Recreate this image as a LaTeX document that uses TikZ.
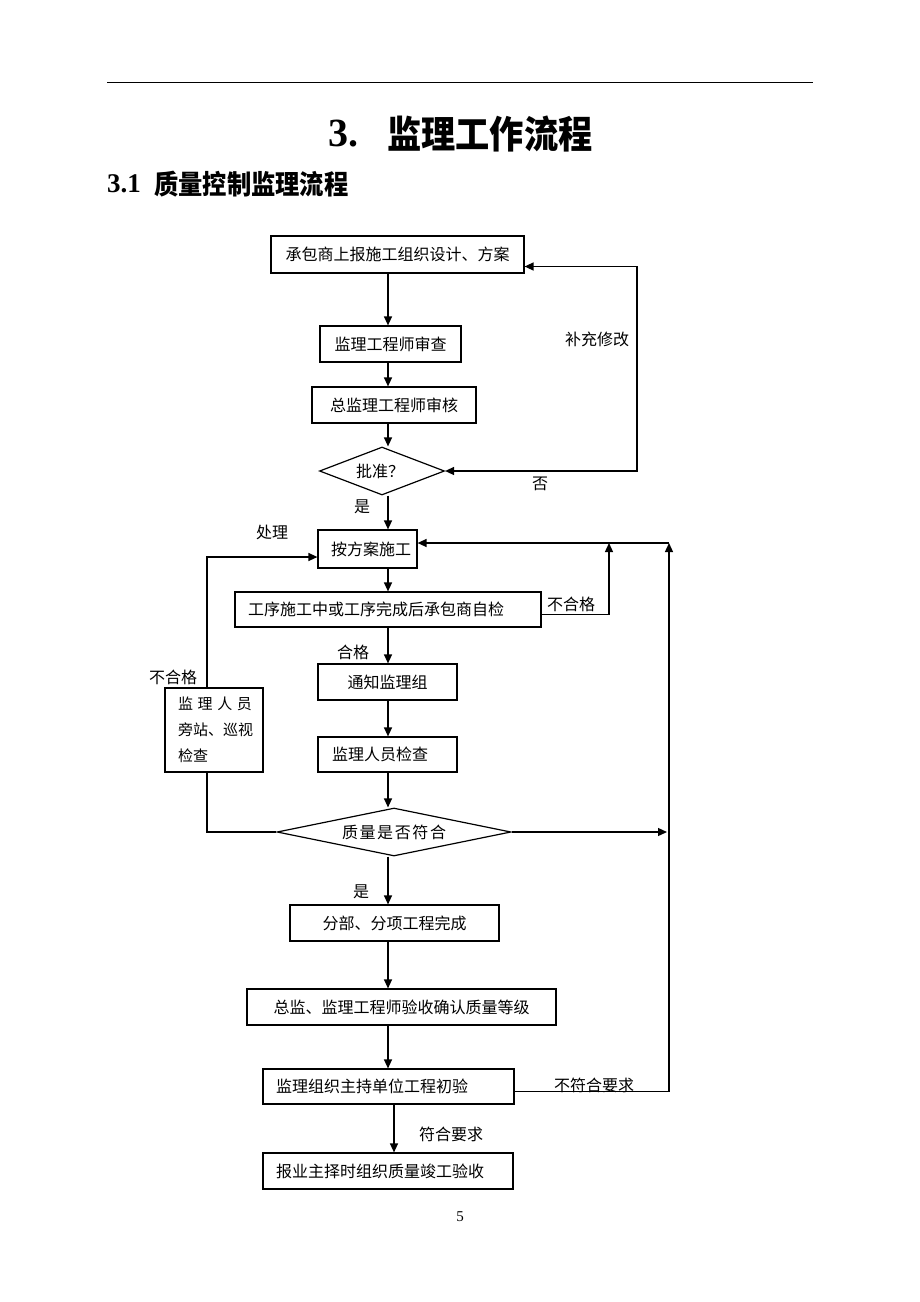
\documentclass[tikz,border=0pt]{standalone}
\usepackage{fontspec}
\setmainfont{Liberation Serif}
\newfontfamily\cjk{Noto Sans CJK SC}
\newfontfamily\cjkt[FakeStretch=0.9]{Noto Sans CJK SC}
\usetikzlibrary{arrows.meta,shapes.geometric}
\tikzset{
  box/.style={draw, line width=1.2pt, inner sep=0pt, font=\cjk\fontsize{16}{19}\selectfont},
  dia/.style={draw, diamond, line width=1.2pt, inner sep=0pt, font=\cjk\fontsize{16}{19}\selectfont},
  lbl/.style={inner sep=0pt, font=\cjk\fontsize{16}{19}\selectfont},
  arr/.style={-{Triangle[length=9pt,width=8pt]}, line width=1.3pt},
  dbl/.style={{Triangle[length=9pt,width=8pt]}-{Triangle[length=9pt,width=8pt]}, line width=1.3pt},
  ln/.style={line width=1.3pt}
}
\newcommand{\padl}[3]{\makebox[#1pt][l]{\hspace*{#2pt}#3}}
\begin{document}
\begin{tikzpicture}[x=1pt,y=-1pt]
\useasboundingbox (0,0) rectangle (920,1302);
% header
\coordinate (hl) at (107,82);
\coordinate (hr) at (813,82);
\draw[line width=0.8pt] (hl) -- (hr);
\node[anchor=west, inner sep=0pt, font=\bfseries\fontsize{40}{44}\selectfont] (t1) at (328,134) {3.};
\node[anchor=west, inner sep=0pt, font=\cjkt\bfseries\fontsize{38}{44}\selectfont] (t2) at (387,134) {监理工作流程};
\node[anchor=west, inner sep=0pt, font=\bfseries\fontsize{27}{30}\selectfont] (s1) at (107,184) {3.1};
\node[anchor=west, inner sep=0pt, font=\cjkt\bfseries\fontsize{27}{30}\selectfont] (s2) at (154,184) {质量控制监理流程};

% column coordinates
\coordinate (cx) at (388,0);
\coordinate (cx2) at (394,0);

% boxes
\node[box, minimum width=253, minimum height=37] (b1) at (397.5,254.5) {承包商上报施工组织设计、方案};
\node[box, minimum width=141, minimum height=36] (b2) at (390.5,344) {监理工程师审查};
\node[box, minimum width=164, minimum height=36] (b3) at (394,405) {总监理工程师审核};
\node[dia, minimum width=125, minimum height=48, aspect=2.6] (d1) at (382,471) {\hspace*{-4pt}批准？};
\node[box, minimum width=99, minimum height=38] (b4) at (367.5,549) {\padl{99}{13}{按方案施工}};
\node[box, minimum width=306, minimum height=35] (b6) at (388,609.5) {\padl{306}{13}{工序施工中或工序完成后承包商自检}};
\node[box, minimum width=139, minimum height=36] (b7) at (387.5,682) {通知监理组};
\node[box, minimum width=139, minimum height=35] (b8) at (387.5,754.5) {\padl{139}{14}{监理人员检查}};
\node[draw, line width=1.2pt, minimum width=98, minimum height=84, inner sep=0pt] (b5) at (214,730) {};
\node[inner sep=0pt, text width=74pt, align=left, font=\cjk\fontsize{15}{26}\selectfont] (b5t) at (215,730) {\makebox[74pt][s]{监\hfill 理\hfill 人\hfill 员}\\旁站、巡视\\检查};
\node[dia, minimum width=234, minimum height=48, aspect=4.9] (d2) at (394,832) {\makebox[104pt][s]{质\hfill 量\hfill 是\hfill 否\hfill 符\hfill 合}};
\node[box, minimum width=209, minimum height=36] (b9) at (394.5,923) {分部、分项工程完成};
\node[box, minimum width=309, minimum height=36] (b10) at (401.5,1007) {总监、监理工程师验收确认质量等级};
\node[box, minimum width=251, minimum height=35] (b11) at (388.5,1086.5) {\padl{251}{13}{监理组织主持单位工程初验}};
\node[box, minimum width=250, minimum height=36] (b12) at (388,1171) {\padl{250}{13}{报业主择时组织质量竣工验收}};

% main column arrows
\draw[arr] (b1.south -| cx) -- (b2.north -| cx);
\draw[arr] (b2.south -| cx) -- (b3.north -| cx);
\draw[arr] (b3.south -| cx) -- (d1.north -| cx);
\draw[arr] (d1.south -| cx) -- (b4.north -| cx);
\draw[arr] (b4.south -| cx) -- (b6.north -| cx);
\draw[arr] (b6.south -| cx) -- (b7.north -| cx);
\draw[arr] (b7.south -| cx) -- (b8.north -| cx);
\draw[arr] (b8.south -| cx) -- (d2.north -| cx);
\draw[arr] (d2.south -| cx) -- (b9.north -| cx);
\draw[arr] (b9.south -| cx) -- (b10.north -| cx);
\draw[arr] (b10.south -| cx) -- (b11.north -| cx);
\draw[arr] (b11.south -| cx2) -- (b12.north -| cx2);

% top loop (补充修改)
\coordinate (r0) at (637,471);
\draw[dbl] ([yshift=-12pt]b1.east) -| (r0) -- (d1.east);

% right loops
\coordinate (r1) at (669,543);
\coordinate (r2) at (609,543);
\coordinate (r3) at (667,832);
\draw[arr] ([yshift=-5pt]b11.east) -| (r1);
\draw[arr] (r1) -- (b4.east |- r1);
\draw[arr] ([yshift=-5pt]b6.east) -| (r2);
\draw[arr] (d2.east) -- (r3);

% left loop
\draw[arr] ([xshift=-7pt]b5.north) |- ([yshift=-8pt]b4.west);
\draw[ln] ([xshift=-7pt]b5.south) |- (d2.west);

% labels
\node[lbl] (l1) at (597,339) {补充修改};
\node[lbl] (l2) at (540,484) {否};
\node[lbl] (l3) at (362,507) {是};
\node[lbl] (l4) at (272,532) {处理};
\node[lbl] (l5) at (173,677) {不合格};
\node[lbl] (l6) at (571,604) {不合格};
\node[lbl] (l7) at (353,652) {合格};
\node[lbl] (l8) at (361,892) {是};
\node[lbl] (l9) at (594,1085) {不符合要求};
\node[lbl] (l10) at (451,1134) {符合要求};
\node[inner sep=0pt, font=\fontsize{15}{18}\selectfont] (pg) at (460,1217) {5};
\end{tikzpicture}
\end{document}
